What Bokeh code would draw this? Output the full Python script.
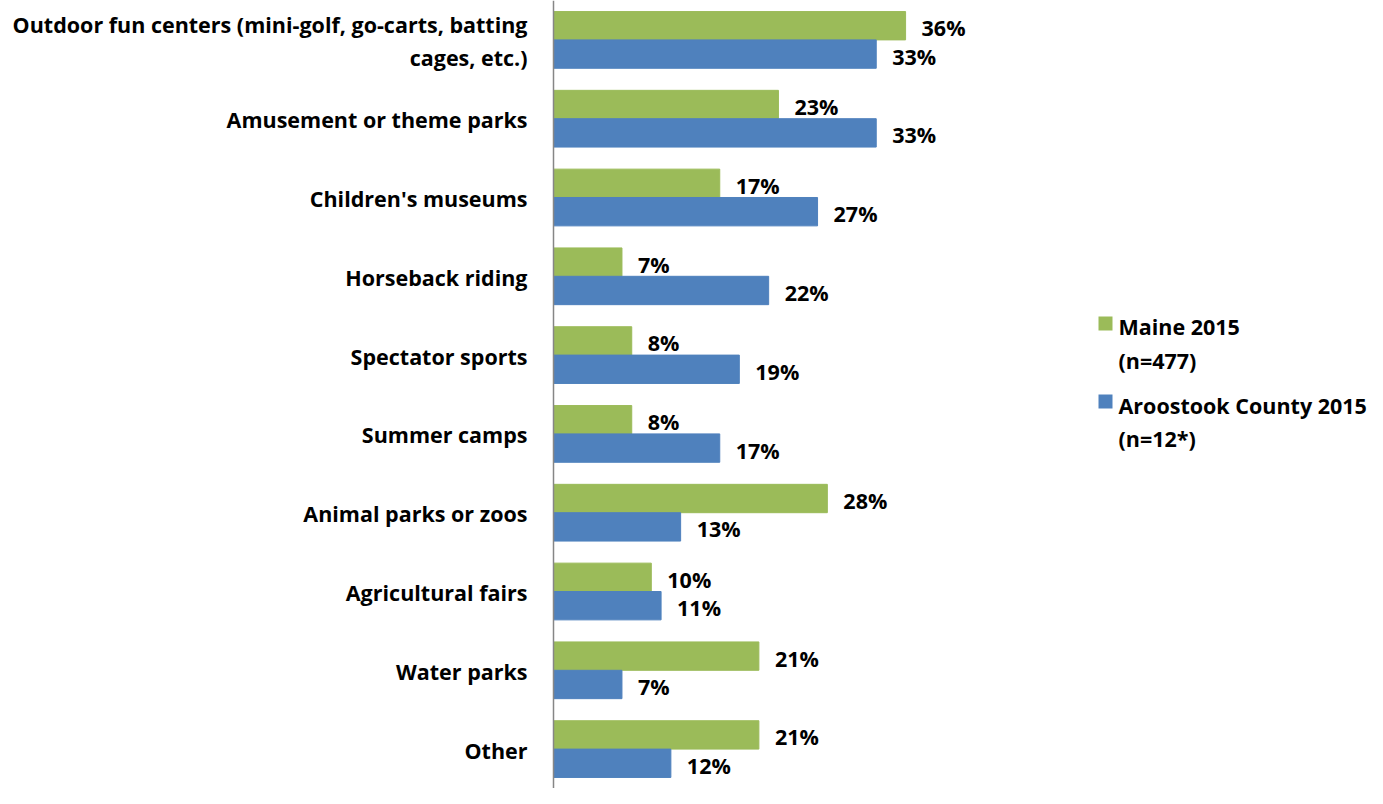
from bokeh.plotting import figure
from bokeh.models import Range1d, FactorRange, ColumnDataSource, Span
from bokeh.transform import dodge
from bokeh.core.properties import value
from bokeh.embed import file_html
from bokeh.resources import INLINE

categories = [
    "Outdoor fun centers (mini-golf, go-carts, batting\ncages, etc.)",
    "Amusement or theme parks",
    "Children's museums",
    "Horseback riding",
    "Spectator sports",
    "Summer camps",
    "Animal parks or zoos",
    "Agricultural fairs",
    "Water parks",
    "Other",
]
maine_2015 = [36, 23, 17, 7, 8, 8, 28, 10, 21, 21]
aroostook_2015 = [33, 33, 27, 22, 19, 17, 13, 11, 7, 12]
series_names = ["Maine 2015\n(n=477)", "Aroostook County 2015\n(n=12*)"]

GREEN = "#9BBB59"
BLUE = "#4F81BD"
FONT = "Open Sans"

W, H = 1367, 788
AXIS_PX = 553
PX_PER_UNIT = 9.78

src = ColumnDataSource(dict(
    cat=categories,
    maine=maine_2015,
    aroo=aroostook_2015,
    maine_lbl=[f"{v}%" for v in maine_2015],
    aroo_lbl=[f"{v}%" for v in aroostook_2015],
    zero=[0] * len(categories),
))

p = figure(
    width=W, height=H, output_backend="svg", toolbar_location=None,
    x_range=Range1d(-AXIS_PX / PX_PER_UNIT, (W - AXIS_PX) / PX_PER_UNIT),
    y_range=FactorRange(factors=list(reversed(categories)), range_padding=0),
    min_border=0, min_border_left=0, min_border_right=0,
    min_border_top=0, min_border_bottom=0,
)
p.axis.visible = False
p.grid.visible = False
p.outline_line_color = None
p.background_fill_color = "white"
p.border_fill_color = "white"

BH = 0.36
p.hbar(y=dodge("cat", BH / 2, range=p.y_range), left=0, right="maine", height=BH,
       color=GREEN, source=src)
p.hbar(y=dodge("cat", -BH / 2, range=p.y_range), left=0, right="aroo", height=BH,
       color=BLUE, source=src)

common = dict(text_font=value(FONT), text_font_style="bold", text_font_size="21.5px",
              text_color="black", text_baseline="middle")
p.text(x="maine", y=dodge("cat", BH / 2, range=p.y_range), text="maine_lbl",
       x_offset=16, y_offset=2, source=src, **common)
p.text(x="aroo", y=dodge("cat", -BH / 2, range=p.y_range), text="aroo_lbl",
       x_offset=16, y_offset=2, source=src, **common)

p.text(x="zero", y="cat", text="cat", x_offset=-26, y_offset=1, text_align="right",
       text_line_height=1.15, source=src, **common)

p.add_layout(Span(location=0, dimension="height", line_color="#868686", line_width=1.5))

# legend (manual)
def sx(px):
    return (px - AXIS_PX) / PX_PER_UNIT

def sy(py):
    return 10 - py / H * 10

leg_x_key = 1105
leg_x_txt = 1118
for name, color, ky in [(series_names[0], GREEN, 323), (series_names[1], BLUE, 401)]:
    p.scatter(x=[sx(leg_x_key)], y=[sy(ky)], marker="square", size=14,
              color=color, line_color=None)
    p.text(x=[sx(leg_x_txt)], y=[sy(ky - 11)], text=[name], text_align="left",
           text_baseline="top", text_line_height=1.15,
           **{k: v for k, v in common.items() if k != "text_baseline"})

open("out.html", "w").write(file_html(p, INLINE))
